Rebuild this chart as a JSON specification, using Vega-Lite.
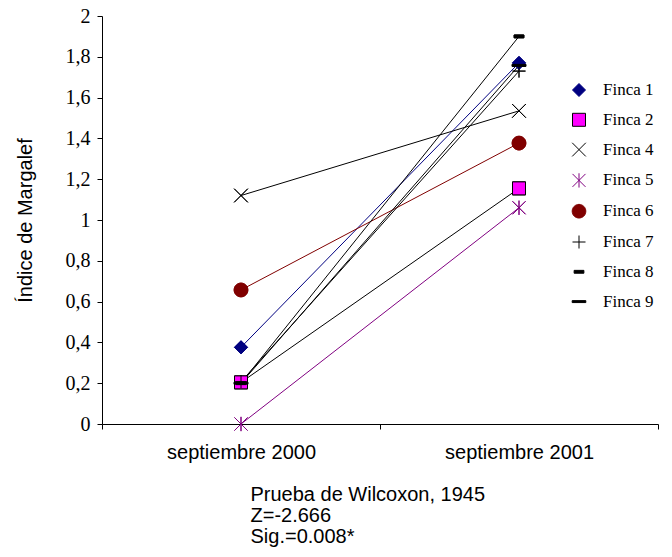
{
  "$schema": "https://vega.github.io/schema/vega-lite/v6.json",
  "width": 556,
  "height": 408,
  "autosize": {"type": "none"},
  "padding": {"left": 102, "top": 16, "right": 14, "bottom": 133},
  "background": "white",
  "config": {
    "view": {"stroke": null},
    "axis": {"domainColor": "black", "tickColor": "black", "labelColor": "black", "titleColor": "black", "grid": false, "domainWidth": 1, "tickWidth": 1},
    "legend": {
      "orient": "none",
      "legendX": 468.5,
      "legendY": 65.5,
      "padding": 0,
      "labelFont": "Liberation Serif",
      "labelFontSize": 17,
      "labelFontWeight": "normal",
      "labelColor": "black",
      "labelOffset": 15.5,
      "rowPadding": 11.8,
      "symbolSize": 169,
      "symbolStrokeWidth": 1
    }
  },
  "data": {
    "values": [
      {"finca": "Finca 1", "periodo": "septiembre 2000", "valor": 0.376},
      {"finca": "Finca 1", "periodo": "septiembre 2001", "valor": 1.77},
      {"finca": "Finca 2", "periodo": "septiembre 2000", "valor": 0.204},
      {"finca": "Finca 2", "periodo": "septiembre 2001", "valor": 1.155},
      {"finca": "Finca 4", "periodo": "septiembre 2000", "valor": 1.12},
      {"finca": "Finca 4", "periodo": "septiembre 2001", "valor": 1.535},
      {"finca": "Finca 5", "periodo": "septiembre 2000", "valor": 0.0},
      {"finca": "Finca 5", "periodo": "septiembre 2001", "valor": 1.06},
      {"finca": "Finca 6", "periodo": "septiembre 2000", "valor": 0.657},
      {"finca": "Finca 6", "periodo": "septiembre 2001", "valor": 1.377},
      {"finca": "Finca 7", "periodo": "septiembre 2000", "valor": 0.207},
      {"finca": "Finca 7", "periodo": "septiembre 2001", "valor": 1.73},
      {"finca": "Finca 8", "periodo": "septiembre 2000", "valor": 0.2},
      {"finca": "Finca 8", "periodo": "septiembre 2001", "valor": 1.9},
      {"finca": "Finca 9", "periodo": "septiembre 2000", "valor": 0.2},
      {"finca": "Finca 9", "periodo": "septiembre 2001", "valor": 1.758}
    ]
  },
  "encoding": {
    "x": {
      "field": "periodo",
      "type": "nominal",
      "sort": ["septiembre 2000", "septiembre 2001"],
      "bandPosition": 0.5,
      "scale": {"type": "band", "paddingInner": 0, "paddingOuter": 0},
      "axis": {
        "labelAngle": 0,
        "labelFont": "Liberation Sans",
        "labelFontSize": 20,
        "labelPadding": 13,
        "tickSize": 5,
        "tickBand": "extent",
        "title": ["Prueba de Wilcoxon, 1945", "Z=-2.666", "Sig.=0.008*"],
        "titleFont": "Liberation Sans",
        "titleFontSize": 20,
        "titleFontWeight": "normal",
        "titleAlign": "left",
        "titleAnchor": "start",
        "titleBaseline": "alphabetic",
        "titleLineHeight": 21,
        "titleX": 148,
        "titleY": 76
      }
    },
    "y": {
      "field": "valor",
      "type": "quantitative",
      "scale": {"domain": [0, 2], "nice": false, "zero": true},
      "axis": {
        "values": [0, 0.2, 0.4, 0.6, 0.8, 1, 1.2, 1.4, 1.6, 1.8, 2],
        "labelExpr": "replace(format(datum.value, '~g'), '.', ',')",
        "labelFont": "Liberation Serif",
        "labelFontSize": 20,
        "labelPadding": 7,
        "tickSize": 5,
        "title": "Índice de Margalef",
        "titleFont": "Liberation Sans",
        "titleFontSize": 20,
        "titleFontWeight": "normal",
        "titleBaseline": "middle",
        "titleAlign": "center",
        "titleX": -77,
        "titleY": 204
      }
    }
  },
  "layer": [
    {
      "mark": {"type": "point", "size": 169, "strokeWidth": 1, "opacity": 1},
      "encoding": {
        "stroke": {
          "field": "finca",
          "type": "nominal",
          "title": null,
          "scale": {
            "domain": ["Finca 1", "Finca 2", "Finca 4", "Finca 5", "Finca 6", "Finca 7", "Finca 8", "Finca 9"],
            "range": ["#000080", "#000000", "#000000", "#800080", "#800000", "#000000", "#000000", "#000000"]
          }
        },
        "fill": {
          "field": "finca",
          "type": "nominal",
          "title": null,
          "scale": {
            "domain": ["Finca 1", "Finca 2", "Finca 4", "Finca 5", "Finca 6", "Finca 7", "Finca 8", "Finca 9"],
            "range": ["#000080", "#FF00FF", "transparent", "transparent", "#800000", "transparent", "#000000", "#000000"]
          }
        },
        "shape": {
          "field": "finca",
          "type": "nominal",
          "title": null,
          "scale": {
            "domain": ["Finca 1", "Finca 2", "Finca 4", "Finca 5", "Finca 6", "Finca 7", "Finca 8", "Finca 9"],
            "range": [
              "M0,-1L1,0L0,1L-1,0Z",
              "M-1,-1H1V1H-1Z",
              "M-1.05,-1.05L1.05,1.05M-1.05,1.05L1.05,-1.05",
              "M-1,-1L1,1M-1,1L1,-1M0,-1.1V1.1",
              "M1.05,0A1.05,1.05 0 1,1 -1.05,0A1.05,1.05 0 1,1 1.05,0Z",
              "M-1,0H1M0,-1V1",
              "M-0.75,-0.22H0.75V0.22H-0.75Z",
              "M-1.05,-0.15H1.05V0.15H-1.05Z"
            ]
          },
          "legend": {
            "encode": {
              "symbols": {
                "shape": {"value": {"expr": "(datum.value == 'Finca 2' ? 'M-3.3,0H-1M1,0H3.3' : 'M-3.3,0H3.3') + scale('shape', datum.value)"}}
              }
            }
          }
        }
      }
    },
    {
      "mark": {"type": "line", "strokeWidth": 1},
      "encoding": {
        "stroke": {"field": "finca", "type": "nominal", "title": null}
      }
    },
    {
      "mark": {"type": "point", "size": 169, "strokeWidth": 1, "opacity": 1},
      "encoding": {
        "stroke": {"field": "finca", "type": "nominal", "title": null},
        "fill": {"field": "finca", "type": "nominal", "title": null},
        "shape": {"field": "finca", "type": "nominal", "title": null}
      }
    }
  ]
}
